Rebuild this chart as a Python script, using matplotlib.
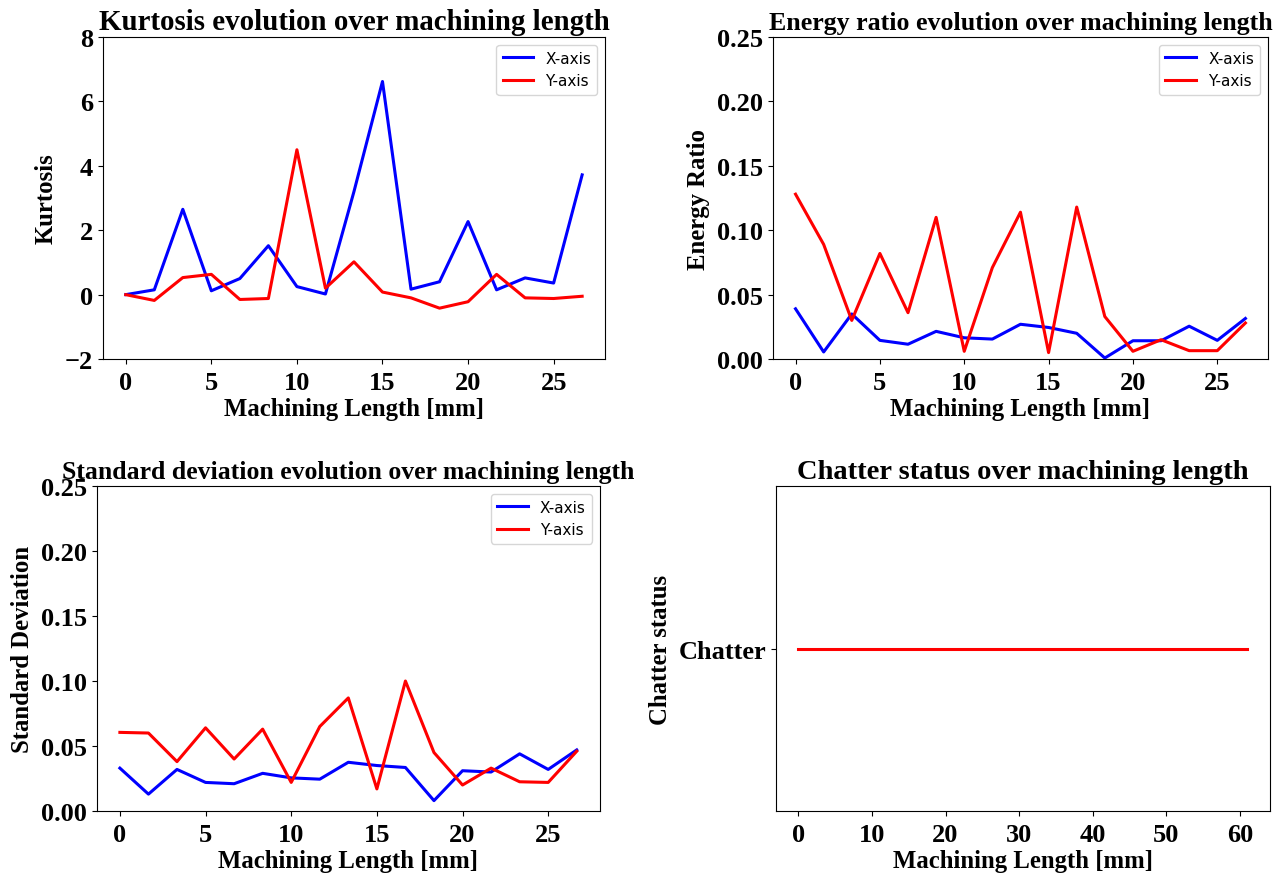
import matplotlib
matplotlib.use("Agg")
import matplotlib.pyplot as plt

# ---- data ----
length_mm = [0, 1.667, 3.333, 5, 6.667, 8.333, 10, 11.667, 13.333, 15,
             16.667, 18.333, 20, 21.667, 23.333, 25, 26.667]

kurtosis_x = [0, 0.15, 2.65, 0.12, 0.5, 1.52, 0.25, 0.02, 3.2, 6.62,
              0.17, 0.4, 2.27, 0.15, 0.52, 0.36, 3.72]
kurtosis_y = [0, -0.18, 0.53, 0.63, -0.15, -0.12, 4.5, 0.2, 1.02, 0.08,
              -0.1, -0.42, -0.22, 0.63, -0.1, -0.12, -0.05]

energy_x = [0.039, 0.0055, 0.035, 0.0145, 0.0115, 0.0215, 0.0165, 0.0155, 0.027, 0.0245,
            0.020, 0.0008, 0.0142, 0.0142, 0.0255, 0.0145, 0.0315]
energy_y = [0.128, 0.089, 0.030, 0.082, 0.036, 0.110, 0.006, 0.071, 0.114, 0.005,
            0.118, 0.033, 0.006, 0.015, 0.0065, 0.0065, 0.028]

std_x = [0.033, 0.013, 0.032, 0.022, 0.021, 0.029, 0.0255, 0.0245, 0.0375, 0.035,
         0.0335, 0.008, 0.031, 0.030, 0.044, 0.032, 0.047]
std_y = [0.0605, 0.060, 0.038, 0.064, 0.040, 0.063, 0.022, 0.065, 0.087, 0.017,
         0.100, 0.045, 0.020, 0.033, 0.0225, 0.022, 0.046]

chatter_x = [0, 61]
chatter_status = ["Chatter", "Chatter"]

series_labels = ["X-axis", "Y-axis"]
xlabel = "Machining Length [mm]"

# ---- style ----
serif = ["Liberation Serif", "DejaVu Serif"]
label_fs = 17.8
tick_fs = 19
lw = 2.2

fig = plt.figure(figsize=(12.82, 8.79), dpi=100)

def style_axes(ax, title, ylabel, title_fs):
    ax.set_title(title, fontsize=title_fs, fontweight="bold", family=serif, pad=6)
    ax.set_xlabel(xlabel, fontsize=label_fs, fontweight="bold", family=serif, labelpad=2)
    ax.set_ylabel(ylabel, fontsize=label_fs, fontweight="bold", family=serif, labelpad=5)
    ax.tick_params(axis="x", pad=5)
    for t in ax.get_xticklabels() + ax.get_yticklabels():
        t.set_fontsize(tick_fs)
        t.set_fontweight("bold")
        t.set_family(serif)

# Kurtosis
ax1 = fig.add_axes([0.0803, 0.5904, 0.3916, 0.3663])
ax1.plot(length_mm, kurtosis_x, color="blue", lw=lw, label=series_labels[0])
ax1.plot(length_mm, kurtosis_y, color="red", lw=lw, label=series_labels[1])
ax1.set_ylim(-2, 8)
ax1.set_xticks([0, 5, 10, 15, 20, 25])
ax1.set_yticks([-2, 0, 2, 4, 6, 8])
ax1.legend(loc="upper right", fontsize=11)
style_axes(ax1, "Kurtosis evolution over machining length", "Kurtosis", 20.8)

# Energy ratio
ax2 = fig.add_axes([0.603, 0.5904, 0.386, 0.3663])
ax2.plot(length_mm, energy_x, color="blue", lw=lw, label=series_labels[0])
ax2.plot(length_mm, energy_y, color="red", lw=lw, label=series_labels[1])
ax2.set_ylim(0, 0.25)
ax2.set_xticks([0, 5, 10, 15, 20, 25])
ax2.set_yticks([0, 0.05, 0.10, 0.15, 0.20, 0.25])
ax2.legend(loc="upper right", fontsize=11)
style_axes(ax2, "Energy ratio evolution over machining length", "Energy Ratio", 18.6)

# Standard deviation
ax3 = fig.add_axes([0.0757, 0.0762, 0.392, 0.3697])
ax3.plot(length_mm, std_x, color="blue", lw=lw, label=series_labels[0])
ax3.plot(length_mm, std_y, color="red", lw=lw, label=series_labels[1])
ax3.set_ylim(0, 0.25)
ax3.set_xticks([0, 5, 10, 15, 20, 25])
ax3.set_yticks([0, 0.05, 0.10, 0.15, 0.20, 0.25])
ax3.legend(loc="upper right", fontsize=11)
style_axes(ax3, "Standard deviation evolution over machining length", "Standard Deviation", 18.5)

# Chatter status
ax4 = fig.add_axes([0.6053, 0.0762, 0.385, 0.3697])
ax4.plot(chatter_x, chatter_status, color="red", lw=lw)
ax4.set_xticks([0, 10, 20, 30, 40, 50, 60])
style_axes(ax4, "Chatter status over machining length", "Chatter status", 20.5)

fig.savefig("out.png", dpi=100)
